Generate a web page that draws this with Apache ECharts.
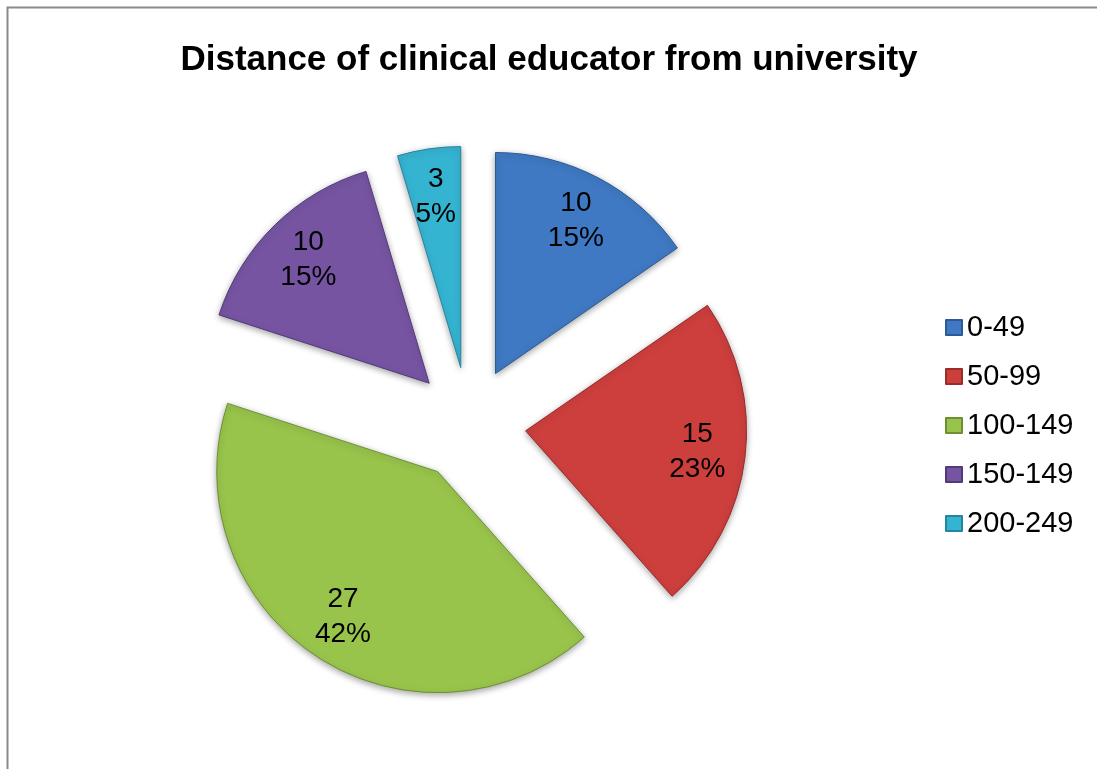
<!DOCTYPE html>
<html>
<head>
<meta charset="utf-8">
<script src="https://cdn.jsdelivr.net/npm/echarts@6/dist/echarts.min.js"></script>
<style>
  html, body { margin: 0; padding: 0; background: #ffffff; }
  #chart { width: 1097px; height: 769px; }
</style>
</head>
<body>
<div id="chart"></div>
<script>
// Distance bands (km) and number of clinical educators in each
const categories = ['0-49', '50-99', '100-149', '150-149', '200-249'];
const counts = [10, 15, 27, 10, 3];
const sliceColors = ['#3F79C3', '#CD3F3D', '#98C44B', '#7654A2', '#35B4D2'];
const edgeColors = ['#2B5A94', '#9A2C2A', '#6E8F34', '#553A7A', '#24869E'];

const titleText = 'Distance of clinical educator from university';

const FONT = '"Liberation Sans", Arial, sans-serif';
const CENTER = [469, 424];
const RADIUS = 221;
const EXPLODE = 57;

const sliceData = categories.map((name, i) => ({
  name: name,
  value: counts[i],
  selected: true,
  itemStyle: {
    color: sliceColors[i],
    borderColor: edgeColors[i],
    borderWidth: 1
  }
}));

// Invisible ring sharing the same slices, used only to place the value labels
const labelData = categories.map((name, i) => ({
  name: name,
  value: counts[i],
  selected: true,
  itemStyle: { color: 'rgba(0,0,0,0)' }
}));

const chart = echarts.init(document.getElementById('chart'), null, { renderer: 'canvas' });

chart.setOption({
  animation: false,
  backgroundColor: '#ffffff',
  title: {
    text: titleText,
    left: 549,
    textAlign: 'center',
    top: 43,
    padding: 0,
    textStyle: {
      fontFamily: FONT,
      fontSize: 35,
      fontWeight: 'bold',
      color: '#000000'
    }
  },
  legend: {
    orient: 'vertical',
    left: 945,
    top: 313,
    padding: 0,
    itemWidth: 16,
    itemHeight: 15,
    itemGap: 20,
    icon: 'rect',
    selectedMode: false,
    data: categories,
    textStyle: {
      fontFamily: FONT,
      fontSize: 29,
      lineHeight: 28,
      color: '#000000',
      padding: [0, 0, 0, 0]
    }
  },
  graphic: [{
    type: 'rect',
    silent: true,
    shape: { x: 7.5, y: 7.5, width: 1200, height: 1000 },
    style: { fill: 'none', stroke: '#8a8a8a', lineWidth: 2 }
  }],
  series: [
    {
      type: 'pie',
      name: 'slices',
      center: CENTER,
      radius: [0, RADIUS],
      startAngle: 90,
      clockwise: true,
      selectedMode: 'multiple',
      selectedOffset: EXPLODE,
      avoidLabelOverlap: false,
      label: { show: false },
      labelLine: { show: false },
      itemStyle: {
        shadowBlur: 6,
        shadowColor: 'rgba(0,0,0,0.35)',
        shadowOffsetY: 2
      },
      emphasis: { disabled: true },
      select: { itemStyle: {} },
      data: sliceData
    },
    {
      type: 'pie',
      name: 'labels',
      silent: true,
      center: CENTER,
      radius: [145, 195],
      startAngle: 90,
      clockwise: true,
      selectedMode: 'multiple',
      selectedOffset: EXPLODE,
      avoidLabelOverlap: false,
      percentPrecision: 0,
      label: {
        show: true,
        position: 'inside',
        formatter: '{c}\n{d}%',
        fontFamily: FONT,
        fontSize: 28,
        lineHeight: 35,
        color: '#000000'
      },
      labelLine: { show: false },
      emphasis: { disabled: true },
      data: labelData
    }
  ]
});
</script>
</body>
</html>
